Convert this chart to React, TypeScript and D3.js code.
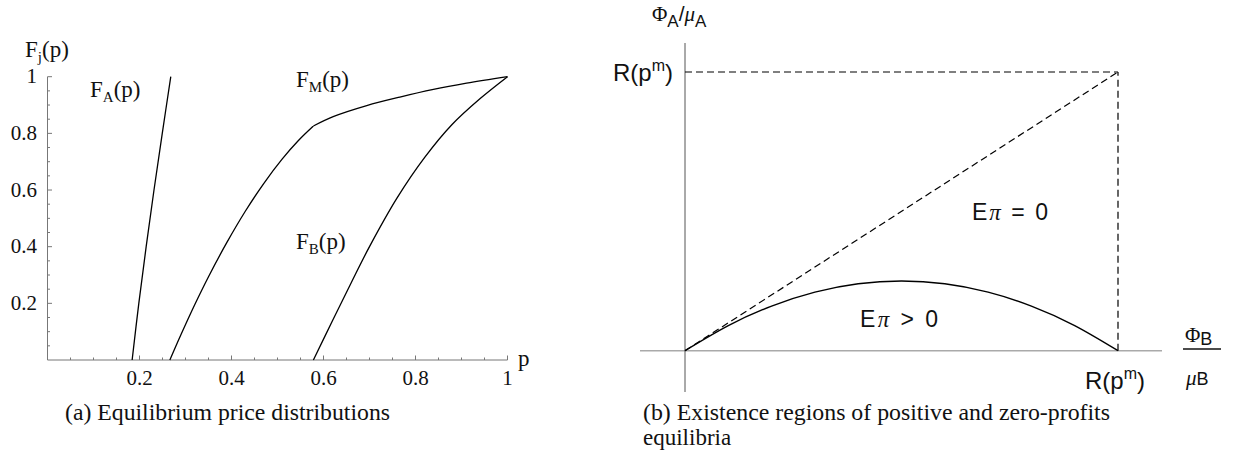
import React from 'react';
import * as d3 from 'd3';

// ---------- Panel (a): equilibrium price distributions ----------
const majorTicksA = [0.2, 0.4, 0.6, 0.8, 1];
const xTickLabelsA = ['0.2', '0.4', '0.6', '0.8', '1'];
const yTickLabelsA = ['0.2', '0.4', '0.6', '0.8', '1'];
const minorTicksA = [0.05, 0.1, 0.15, 0.25, 0.3, 0.35, 0.45, 0.5, 0.55, 0.65, 0.7, 0.75, 0.85, 0.9, 0.95];

const fA_p = [0.184, 0.1985, 0.2145, 0.2315, 0.2495, 0.268];
const fA_F = [0, 0.2, 0.4, 0.6, 0.8, 1];

const fMlow_p = [0.266, 0.29, 0.32, 0.35, 0.39, 0.43, 0.47, 0.51, 0.545, 0.578];
const fMlow_F = [0, 0.089, 0.195, 0.294, 0.415, 0.525, 0.623, 0.709, 0.774, 0.826];
const fMhigh_p = [0.578, 0.621, 0.694, 0.766, 0.839, 0.911, 1];
const fMhigh_F = [0.826, 0.859, 0.898, 0.928, 0.955, 0.977, 1];

const fB_p = [0.578, 0.62, 0.66, 0.7, 0.76, 0.82, 0.88, 0.94, 1];
const fB_F = [0, 0.14, 0.272, 0.4, 0.572, 0.715, 0.832, 0.922, 1];

// ---------- Panel (b): existence regions ----------
const phiB = [0, 0.1, 0.2, 0.3, 0.4, 0.5, 0.6, 0.7, 0.8, 0.9, 1];
const phiA = [0, 0.09, 0.16, 0.21, 0.24, 0.25, 0.24, 0.21, 0.16, 0.09, 0];
const Rpm = 1;

const serif = "'Liberation Serif', 'Times New Roman', serif";
const sans = "'Liberation Sans', Arial, sans-serif";

export default function App() {
  const xA = d3.scaleLinear().domain([0, 1]).range([47.5, 507.5]);
  const yA = d3.scaleLinear().domain([0, 1]).range([360, 76.7]);

  const xB = d3.scaleLinear().domain([0, Rpm]).range([685, 1118]);
  const yB = d3.scaleLinear().domain([0, Rpm]).range([350.7, 72]);

  const lineA = (ps: number[], fs: number[]) =>
    d3
      .line<number>()
      .x((_, i) => xA(ps[i]))
      .y((_, i) => yA(fs[i]))
      .curve(d3.curveCatmullRom.alpha(0.5))(ps) as string;

  const profitPath = d3
    .line<number>()
    .x((_, i) => xB(phiB[i]))
    .y((_, i) => yB(phiA[i]))
    .curve(d3.curveNatural)(phiB) as string;

  const axisCol = '#777';
  const ink = '#111';

  return (
    <div style={{ position: 'absolute', left: 0, top: 0 }}>
      <svg width={1240} height={468} style={{ display: 'block', background: '#fff' }}>
        {/* ---------- Panel (a) ---------- */}
        <g>
          <line x1={xA(0)} x2={xA(1)} y1={yA(0)} y2={yA(0)} stroke={axisCol} strokeWidth={1} />
          <line x1={xA(0)} x2={xA(0)} y1={yA(0)} y2={yA(1)} stroke={axisCol} strokeWidth={1} />
          {minorTicksA.map((t) => (
            <g key={'mn' + t}>
              <line x1={xA(t)} x2={xA(t)} y1={yA(0)} y2={yA(0) - 2.5} stroke={axisCol} strokeWidth={1} />
              <line x1={xA(0)} x2={xA(0) + 2.5} y1={yA(t)} y2={yA(t)} stroke={axisCol} strokeWidth={1} />
            </g>
          ))}
          {majorTicksA.map((t, i) => (
            <g key={'mj' + t}>
              <line x1={xA(t)} x2={xA(t)} y1={yA(0)} y2={yA(0) - 4.5} stroke={axisCol} strokeWidth={1} />
              <line x1={xA(0)} x2={xA(0) + 4.5} y1={yA(t)} y2={yA(t)} stroke={axisCol} strokeWidth={1} />
              <text x={xA(t)} y={385} textAnchor="middle" fontFamily={serif} fontSize={21} fill={ink}>
                {xTickLabelsA[i]}
              </text>
              <text x={37} y={yA(t) + 6.5} textAnchor="end" fontFamily={serif} fontSize={21} fill={ink}>
                {yTickLabelsA[i]}
              </text>
            </g>
          ))}
          <text x={518} y={366} fontFamily={serif} fontSize={23} fill={ink}>p</text>
          <text x={25} y={57} fontFamily={serif} fontSize={23} fill={ink}>
            F<tspan fontSize={15} dy={5}>j</tspan>
            <tspan dy={-5}>(p)</tspan>
          </text>

          <path d={lineA(fA_p, fA_F)} fill="none" stroke="#000" strokeWidth={1.3} />
          <path d={lineA(fMlow_p, fMlow_F)} fill="none" stroke="#000" strokeWidth={1.3} />
          <path d={lineA(fMhigh_p, fMhigh_F)} fill="none" stroke="#000" strokeWidth={1.3} />
          <path d={lineA(fB_p, fB_F)} fill="none" stroke="#000" strokeWidth={1.3} />

          <text x={90} y={97} fontFamily={serif} fontSize={23} fill={ink}>
            F<tspan fontSize={15} dy={5}>A</tspan>
            <tspan dy={-5}>(p)</tspan>
          </text>
          <text x={296} y={87} fontFamily={serif} fontSize={23} fill={ink}>
            F<tspan fontSize={15} dy={5}>M</tspan>
            <tspan dy={-5}>(p)</tspan>
          </text>
          <text x={296} y={249} fontFamily={serif} fontSize={23} fill={ink}>
            F<tspan fontSize={15} dy={5}>B</tspan>
            <tspan dy={-5}>(p)</tspan>
          </text>

          <text x={65} y={420} fontFamily={serif} fontSize={23} fill={ink} textLength={325} lengthAdjust="spacingAndGlyphs">
            (a) Equilibrium price distributions
          </text>
        </g>

        {/* ---------- Panel (b) ---------- */}
        <g>
          <line x1={640} x2={1162} y1={yB(0)} y2={yB(0)} stroke="#aaa" strokeWidth={1.6} />
          <line x1={xB(0)} x2={xB(0)} y1={43} y2={392} stroke="#555" strokeWidth={1} />

          <line x1={xB(0)} x2={xB(Rpm)} y1={yB(Rpm)} y2={yB(Rpm)} stroke="#000" strokeWidth={1.2} strokeDasharray="7,4" />
          <line x1={xB(0)} x2={xB(Rpm)} y1={yB(0)} y2={yB(Rpm)} stroke="#000" strokeWidth={1.2} strokeDasharray="7,4" />
          <line x1={xB(Rpm)} x2={xB(Rpm)} y1={yB(0)} y2={yB(Rpm)} stroke="#000" strokeWidth={1.2} strokeDasharray="7,4" />

          <path d={profitPath} fill="none" stroke="#000" strokeWidth={1.4} />

          <text x={652} y={21} fill={ink}>
            <tspan fontFamily={serif} fontSize={21}>Φ</tspan>
            <tspan fontFamily={sans} fontSize={17} dy={6}>A</tspan>
            <tspan fontFamily={sans} fontSize={21} dy={-6}>/</tspan>
            <tspan fontFamily={serif} fontStyle="italic" fontSize={21}>μ</tspan>
            <tspan fontFamily={sans} fontSize={17} dy={6}>A</tspan>
          </text>

          <text x={673} y={81} textAnchor="end" fontFamily={sans} fontSize={24} fill={ink}>
            R(p<tspan fontSize={16} dy={-10}>m</tspan>
            <tspan dy={10}>)</tspan>
          </text>

          <text x={1085} y={389} fontFamily={sans} fontSize={24} fill={ink}>
            R(p<tspan fontSize={16} dy={-10}>m</tspan>
            <tspan dy={10}>)</tspan>
          </text>

          <text x={1185} y={342} fill={ink}>
            <tspan fontFamily={serif} fontSize={21}>Φ</tspan>
            <tspan fontFamily={sans} fontSize={18} dy={3}>B</tspan>
          </text>
          <line x1={1183} x2={1221} y1={349} y2={349} stroke={ink} strokeWidth={1.3} />
          <text x={1186} y={385} fill={ink}>
            <tspan fontFamily={serif} fontStyle="italic" fontSize={21}>μ</tspan>
            <tspan fontFamily={sans} fontSize={18}>B</tspan>
          </text>

          <text x={972} y={220} fontFamily={sans} fontSize={23} fill={ink} textLength={76} lengthAdjust="spacing">
            E<tspan fontFamily={serif} fontStyle="italic">π</tspan> = 0
          </text>
          <text x={860} y={327} fontFamily={sans} fontSize={23} fill={ink} textLength={78} lengthAdjust="spacing">
            E<tspan fontFamily={serif} fontStyle="italic">π</tspan> &gt; 0
          </text>

          <text x={643} y={420} fontFamily={serif} fontSize={23} fill={ink} textLength={467} lengthAdjust="spacingAndGlyphs">
            (b) Existence regions of positive and zero-profits
          </text>
          <text x={643} y={445} fontFamily={serif} fontSize={23} fill={ink}>
            equilibria
          </text>
        </g>
      </svg>
    </div>
  );
}
